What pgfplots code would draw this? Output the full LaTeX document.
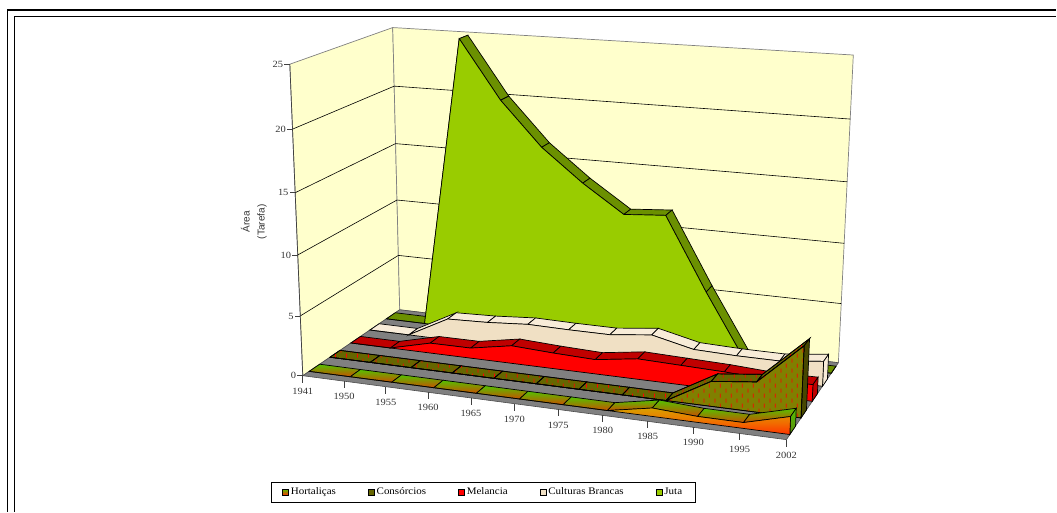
\documentclass[border=0pt]{standalone}
\usepackage{pgfplots}
\pgfplotsset{compat=1.18}
\usepackage{pgfplotstable}
\usepackage{fontspec}
\usetikzlibrary{patterns}
\setmainfont{Liberation Serif}[FakeStretch=1.1]
\newfontfamily\arialf{Liberation Sans}
\definecolor{wall}{HTML}{FFFFCC}
\definecolor{floorg}{HTML}{808080}
\definecolor{jutaF}{HTML}{99CC00}
\definecolor{jutaT}{HTML}{6B9000}
\definecolor{cultF}{HTML}{F0E0C4}
\definecolor{cultT}{HTML}{F8ECD8}
\definecolor{melF}{HTML}{FF0000}
\definecolor{melT}{HTML}{C00000}
\definecolor{conF}{HTML}{808000}
\definecolor{conT}{HTML}{666600}
\definecolor{horG}{HTML}{55C000}
\definecolor{horO}{HTML}{C85000}
\definecolor{horY}{HTML}{D8A000}
\definecolor{horR}{HTML}{FF3300}
\definecolor{horM}{HTML}{F07000}
\definecolor{horS}{HTML}{5A8A10}
\pgfdeclareverticalshading{horface}{100bp}{color(0bp)=(horR); color(25bp)=(horR); color(35bp)=(horM); color(46bp)=(horY); color(100bp)=(horY)}
\pgfdeclarepatternformonly{reddash}{\pgfpoint{0pt}{0pt}}{\pgfpoint{11.4pt}{10pt}}{\pgfpoint{11.4pt}{10pt}}{
  \pgfsetlinewidth{0.8pt}
  \pgfpathmoveto{\pgfpoint{1pt}{0.5pt}}\pgfpathlineto{\pgfpoint{1pt}{4.5pt}}
  \pgfpathmoveto{\pgfpoint{6.7pt}{5.5pt}}\pgfpathlineto{\pgfpoint{6.7pt}{9.5pt}}
  \pgfusepath{stroke}}
% values: year index, area (tarefa)
\pgfplotstableread{
i v
0 0
1 0
2 24.9
3 20.05
4 16.4
5 13.7
6 11.4
7 11.65
8 5.6
9 0
10 0
11 0
}\tabJuta
\pgfplotstableread{
i v
0 0
1 0
2 1.83
3 1.95
4 2.2
5 2.15
6 2.15
7 2.55
8 1.75
9 1.65
10 1.65
11 2.05
}\tabCult
\pgfplotstableread{
i v
0 0
1 0
2 0.86
3 0.87
4 1.5
5 1.32
6 1.2
7 1.7
8 1.6
9 1.5
10 1.3
11 1.35
}\tabMel
\pgfplotstableread{
i v
0 0
1 0
2 0
3 0
4 0
5 0
6 0
7 0
8 0
9 2.0
10 2.4
11 5.66
}\tabCon
\pgfplotstableread{
i v
0 0
1 0
2 0
3 0
4 0
5 0
6 0
7 0
8 0.67
9 0.47
10 0.46
11 1.4
}\tabHor
% projection of (year index, depth 0..1, value) on to the picture
\newcommand\proj[3]{%
  \pgfmathsetmacro\pw{1-.06685*#1/11+.11043*#2-.0508*#3/25}%
  \pgfmathsetmacro\rx{(303+431.39*#1/11+141.17*#2-27.7*#3/25)/\pw}%
  \pgfmathsetmacro\ry{(376+34.59*#1/11-31.77*#2-315*(1+.029*#1/11)*#3/25)/\pw}}
\newcommand\clist{}
\newcommand\cstart{\gdef\clist{}}
\newcommand\cadd[3]{\proj{#1}{#2}{#3}\xdef\clist{\clist(\rx,\ry)}}
\newcommand\closedpoly[1]{\edef\tmp{\noexpand\addplot[\unexpanded{#1}] coordinates {\clist} -- cycle;}\tmp}
\newcommand\openpoly[1]{\edef\tmp{\noexpand\addplot[\unexpanded{#1}] coordinates {\clist};}\tmp}
\newcommand\getv[2]{\pgfplotstablegetelem{#2}{v}\of{#1}\let\val\pgfplotsretval}
% #1 table, #2 front depth, #3 back depth, #4 strip style, #5 front style, #6 end-cap style
\newcommand\series[6]{%
  \pgfplotsforeachungrouped \kk in {0,...,10}{%
    \pgfmathtruncatemacro\kn{\kk+1}%
    \getv{#1}{\kk}\let\va\val \getv{#1}{\kn}\let\vb\val
    \cstart \cadd{\kk}{#2}{\va}\cadd{\kn}{#2}{\vb}\cadd{\kn}{#3}{\vb}\cadd{\kk}{#3}{\va}%
    \closedpoly{#4}%
  }%
  \getv{#1}{11}\let\va\val
  \cstart \cadd{11}{#2}{0}\cadd{11}{#2}{\va}\cadd{11}{#3}{\va}\cadd{11}{#3}{0}%
  \closedpoly{#6}%
  \cstart
  \pgfplotsforeachungrouped \kk in {0,...,11}{%
    \getv{#1}{\kk}\cadd{\kk}{#2}{\val}}%
  \cadd{11}{#2}{0}\cadd{0}{#2}{0}%
  \closedpoly{#5}%
}
\newcommand\ytk[1]{%
  \proj{0}{0}{#1}\pgfmathsetmacro\xa{\rx-5.5}\pgfmathsetmacro\xb{\rx-6.5}%
  \edef\tmp{\noexpand\addplot[black!75, line width=0.6pt] coordinates {(\rx,\ry)(\xa,\ry)};
    \noexpand\node[anchor=east, inner sep=0pt, text=black!80, font=\noexpand\fontsize{9.5}{10}\noexpand\selectfont] at (axis cs:\xb,\ry) {#1};}\tmp}
\newcommand\xtk[2]{%
  \proj{#1}{0}{0}\pgfmathsetmacro\ya{\ry+7}\pgfmathsetmacro\yb{\ry+15.5}%
  \edef\tmp{\noexpand\addplot[black!75, line width=0.6pt] coordinates {(\rx,\ry)(\rx,\ya)};
    \noexpand\node[inner sep=0pt, text=black!80, font=\noexpand\fontsize{9.5}{10}\noexpand\selectfont] at (axis cs:\rx,\yb) {#2};}\tmp}
\begin{document}
\begin{tikzpicture}
\begin{axis}[
  hide axis, scale only axis, width=1057pt, height=512pt,
  xmin=0, xmax=1057, ymin=0, ymax=512, y dir=reverse, clip=false,
  legend style={at={(axis cs:483.5,492.5)}, anchor=center, draw=black, line width=0.7pt,
    font=\fontsize{10}{11}\selectfont, legend columns=5, inner xsep=11pt, inner ysep=3.8pt, outer sep=0pt,
    /tikz/every even column/.append style={column sep=30pt}, cells={anchor=west}},
  legend entries={Hortaliças,Consórcios,Melancia,Culturas Brancas,Juta},
]
\addlegendimage{legend image code/.code={\draw[top color=horG, bottom color=horR, draw=black, line width=0.7pt] (0pt,-3pt) rectangle (6pt,3pt);}}
\addlegendimage{legend image code/.code={\draw[fill=conT, draw=black, line width=0.7pt] (0pt,-3pt) rectangle (6pt,3pt);}}
\addlegendimage{legend image code/.code={\draw[fill=melF, draw=black, line width=0.7pt] (0pt,-3pt) rectangle (6pt,3pt);}}
\addlegendimage{legend image code/.code={\draw[fill=cultF, draw=black, line width=0.7pt] (0pt,-3pt) rectangle (6pt,3pt);}}
\addlegendimage{legend image code/.code={\draw[fill=jutaF, draw=black, line width=0.7pt] (0pt,-3pt) rectangle (6pt,3pt);}}
\path (axis cs:0,0) rectangle (axis cs:1057,512);
% frames
\addplot[black, line width=1.6pt] coordinates {(1057,10)(7.5,10)(7.5,512)};
\addplot[black, line width=1pt] coordinates {(1057,16.5)(14.5,16.5)(14.5,512)};
% walls and floor
\cstart \cadd{0}{0}{0}\cadd{0}{0}{25}\cadd{0}{1}{25}\cadd{0}{1}{0}
\closedpoly{fill=wall, draw=floorg, line width=0.7pt}
\cstart \cadd{0}{1}{0}\cadd{0}{1}{25}\cadd{11}{1}{25}\cadd{11}{1}{0}
\closedpoly{fill=wall, draw=floorg, line width=0.7pt}
\cstart \cadd{0}{0}{0}\cadd{11}{0}{0}\cadd{11}{1}{0}\cadd{0}{1}{0}
\closedpoly{fill=floorg, draw=black!70, line width=0.6pt}
\pgfplotsforeachungrouped \hh in {5,10,15,20}{%
  \cstart \cadd{0}{0}{\hh}\cadd{0}{1}{\hh}\cadd{11}{1}{\hh}%
  \openpoly{black, line width=0.6pt}%
}
\cstart \cadd{0}{0}{0}\cadd{0}{0}{25}
\openpoly{black!75, line width=0.7pt}
% y ticks
\ytk{0}\ytk{5}\ytk{10}\ytk{15}\ytk{20}\ytk{25}
% x ticks
\xtk{0}{1941}\xtk{1}{1950}\xtk{2}{1955}\xtk{3}{1960}\xtk{4}{1965}\xtk{5}{1970}
\xtk{6}{1975}\xtk{7}{1980}\xtk{8}{1985}\xtk{9}{1990}\xtk{10}{1995}\xtk{11}{2002}
% series, back to front
\series{\tabJuta}{0.85}{0.95}{fill=jutaT, draw=black, line width=0.7pt}{fill=jutaF, draw=black, line width=0.7pt}{fill=jutaT, draw=black, line width=0.7pt}
\series{\tabCult}{0.67}{0.77}{fill=cultT, draw=black, line width=0.7pt}{fill=cultF, draw=black, line width=0.7pt}{fill=cultT, draw=black, line width=0.7pt}
\series{\tabMel}{0.47}{0.57}{fill=melT, draw=black, line width=0.7pt}{fill=melF, draw=black, line width=0.7pt}{fill=melT, draw=black, line width=0.7pt}
\series{\tabCon}{0.26}{0.36}{preaction={fill=conT}, pattern=reddash, pattern color=red, draw=black, line width=0.7pt}{preaction={fill=conF}, pattern=reddash, pattern color=red, draw=black, line width=0.7pt}{fill=conT!70!black, draw=black, line width=0.7pt}
\series{\tabHor}{0.06}{0.16}{top color=horG, bottom color=horO, draw=black, line width=0.7pt}{shading=horface, draw=black, line width=0.7pt}{top color=horG, bottom color=horS, draw=black, line width=0.7pt}
% axis title
\node[rotate=90, font=\arialf\fontsize{10}{15}\selectfont, align=center, text=black!80] at (axis cs:254,222) {Área\\(Tarefa)};
\end{axis}
\end{tikzpicture}
\end{document}
